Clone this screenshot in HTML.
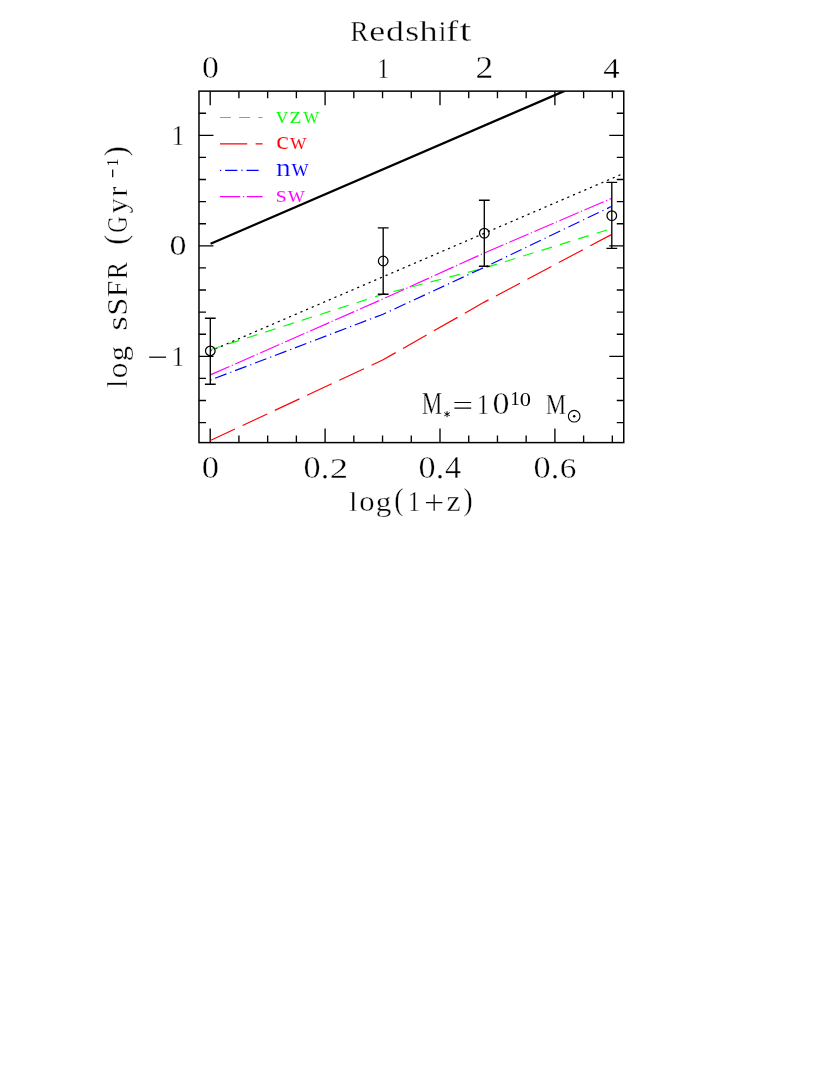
<!DOCTYPE html>
<html><head><meta charset="utf-8"><title>sSFR vs redshift</title>
<style>html,body{margin:0;padding:0;background:#fff}svg{display:block}text{font-family:"Liberation Serif",serif}</style></head>
<body><svg width="817" height="1089" viewBox="0 0 817 1089">
<defs><clipPath id="cp"><rect x="198.98" y="91.13" width="424.78" height="351.47"/></clipPath></defs>
<rect width="817" height="1089" fill="#fff"/>
<g opacity="0.999">
<rect x="198.98" y="91.13" width="424.78" height="351.47" fill="none" stroke="#000" stroke-width="1.5"/>
<path d="M210.20 91.13v14.0M210.20 442.6v-14.0M238.92 91.13v7.2M238.92 442.6v-7.2M267.65 91.13v7.2M267.65 442.6v-7.2M296.38 91.13v7.2M296.38 442.6v-7.2M325.10 91.13v14.0M325.10 442.6v-14.0M353.82 91.13v7.2M353.82 442.6v-7.2M382.55 91.13v7.2M382.55 442.6v-7.2M411.27 91.13v7.2M411.27 442.6v-7.2M440.00 91.13v14.0M440.00 442.6v-14.0M468.73 91.13v7.2M468.73 442.6v-7.2M497.45 91.13v7.2M497.45 442.6v-7.2M526.17 91.13v7.2M526.17 442.6v-7.2M554.90 91.13v14.0M554.90 442.6v-14.0M583.62 91.13v7.2M583.62 442.6v-7.2M612.35 91.13v7.2M612.35 442.6v-7.2M198.98 422.63h7.0M623.76 422.63h-7.0M198.98 400.53h7.0M623.76 400.53h-7.0M198.98 378.43h7.0M623.76 378.43h-7.0M198.98 356.33h14.5M623.76 356.33h-14.5M198.98 334.23h7.0M623.76 334.23h-7.0M198.98 312.13h7.0M623.76 312.13h-7.0M198.98 290.03h7.0M623.76 290.03h-7.0M198.98 267.93h7.0M623.76 267.93h-7.0M198.98 245.83h14.5M623.76 245.83h-14.5M198.98 223.73h7.0M623.76 223.73h-7.0M198.98 201.63h7.0M623.76 201.63h-7.0M198.98 179.53h7.0M623.76 179.53h-7.0M198.98 157.43h7.0M623.76 157.43h-7.0M198.98 135.33h14.5M623.76 135.33h-14.5M198.98 113.23h7.0M623.76 113.23h-7.0" stroke="#000" stroke-width="1.35" fill="none"/>
<g clip-path="url(#cp)">
<path d="M210.6 243.7L564.6 90.9" stroke="#000" stroke-width="2.3" fill="none"/>
<path d="M210.3 351.0L621.1 174.5" stroke="#000" stroke-width="1.25" fill="none" stroke-dasharray="2.2 3.98" stroke-dashoffset="0.8"/>
<path d="M210.3 349.8 L383.1 294.2 L484.3 268.1 L611.8 228.5" stroke="#00ff00" stroke-width="1.2" fill="none" stroke-dasharray="10.9 8.32"/>
<path d="M210.3 440.5 L383.1 359.8 L484.3 302.1 L611.8 234.4" stroke="#ff0000" stroke-width="1.2" fill="none" stroke-dasharray="27.2 8.4"/>
<path d="M210.3 380.1 L383.1 314.2 L484.3 267.3 L611.8 206.3" stroke="#0000ff" stroke-width="1.2" fill="none" stroke-dasharray="1.2 3.9 12.2 4.07"/>
<path d="M210.3 374.9 L383.1 298.9 L484.3 253.0 L611.8 198.2" stroke="#ff00ff" stroke-width="1.2" fill="none" stroke-dasharray="20.9 2.55 1.2 2.61"/>
</g>
<path d="M210.3 318.2V384.2M204.9 318.2h10.8M204.9 384.2h10.8" stroke="#000" stroke-width="1.35" fill="none"/>
<circle cx="210.3" cy="350.9" r="4.8" stroke="#000" stroke-width="1.25" fill="none"/>
<path d="M383.2 227.9V294.2M377.8 227.9h10.8M377.8 294.2h10.8" stroke="#000" stroke-width="1.35" fill="none"/>
<circle cx="383.2" cy="261.0" r="4.8" stroke="#000" stroke-width="1.25" fill="none"/>
<path d="M484.3 200.2V266.2M478.90000000000003 200.2h10.8M478.90000000000003 266.2h10.8" stroke="#000" stroke-width="1.35" fill="none"/>
<circle cx="484.3" cy="233.2" r="4.8" stroke="#000" stroke-width="1.25" fill="none"/>
<path d="M611.8 182.4V248.4M606.4 182.4h10.8M606.4 248.4h10.8" stroke="#000" stroke-width="1.35" fill="none"/>
<circle cx="611.8" cy="215.7" r="4.8" stroke="#000" stroke-width="1.25" fill="none"/>
<path d="M220 117.5H262.6" stroke="#00ff00" stroke-width="1.2" fill="none" stroke-dasharray="10.9 8.2"/>
<path d="M220 143.9H262.6" stroke="#ff0000" stroke-width="1.2" fill="none" stroke-dasharray="27.2 8.4"/>
<path d="M220 170.3H262.6" stroke="#0000ff" stroke-width="1.2" fill="none" stroke-dasharray="1.2 3.9 12.2 4.07"/>
<path d="M220 196.7H262.6" stroke="#ff00ff" stroke-width="1.2" fill="none" stroke-dasharray="20.3 2.6 1.2 2.6"/>
<text transform="translate(276.00,122.90) scale(1.000,0.999)" font-size="24" fill="#00ff00" stroke="#fff" stroke-width="0.2">v</text>
<text transform="translate(289.49,122.90) scale(1.103,0.999)" font-size="24" fill="#00ff00" stroke="#fff" stroke-width="0.2">z</text>
<text transform="translate(302.98,122.90) scale(0.942,0.999)" font-size="24" fill="#00ff00" stroke="#fff" stroke-width="0.2">w</text>
<text transform="translate(275.88,149.30) scale(1.222,1.017)" font-size="24" fill="#ff0000" stroke="#fff" stroke-width="0.2">c</text>
<text transform="translate(289.78,149.30) scale(0.982,0.999)" font-size="24" fill="#ff0000" stroke="#fff" stroke-width="0.2">w</text>
<text transform="translate(276.12,175.80) scale(1.227,1.017)" font-size="24" fill="#0000ff" stroke="#fff" stroke-width="0.2">n</text>
<text transform="translate(291.28,175.80) scale(1.023,1.017)" font-size="24" fill="#0000ff" stroke="#fff" stroke-width="0.2">w</text>
<text transform="translate(275.84,202.10) scale(1.175,0.999)" font-size="24" fill="#ff00ff" stroke="#fff" stroke-width="0.2">s</text>
<text transform="translate(287.48,202.10) scale(1.011,0.999)" font-size="24" fill="#ff00ff" stroke="#fff" stroke-width="0.2">w</text>
<text transform="translate(350.21,41.00) scale(0.911,0.988)" font-size="30" fill="#000" stroke="#fff" stroke-width="0.35">R</text>
<text transform="translate(369.30,41.00) scale(1.198,0.990)" font-size="30" fill="#000" stroke="#fff" stroke-width="0.35">e</text>
<text transform="translate(386.10,41.00) scale(1.196,0.961)" font-size="30" fill="#000" stroke="#fff" stroke-width="0.35">d</text>
<text transform="translate(405.33,41.00) scale(1.197,0.990)" font-size="30" fill="#000" stroke="#fff" stroke-width="0.35">s</text>
<text transform="translate(419.34,41.00) scale(1.230,0.961)" font-size="30" fill="#000" stroke="#fff" stroke-width="0.35">h</text>
<text transform="translate(438.39,41.00) scale(0.967,1.007)" font-size="30" fill="#000" stroke="#fff" stroke-width="0.35">i</text>
<text transform="translate(445.97,41.00) scale(1.224,0.947)" font-size="30" fill="#000" stroke="#fff" stroke-width="0.35">f</text>
<text transform="translate(459.48,41.00) scale(1.424,1.036)" font-size="30" fill="#000" stroke="#fff" stroke-width="0.35">t</text>
<text transform="translate(201.91,78.05) scale(1.125,1.020)" font-size="30" fill="#000" stroke="#fff" stroke-width="0.35">0</text>
<text transform="translate(377.00,78.05) scale(0.833,1.017)" font-size="30" fill="#000" stroke="#fff" stroke-width="0.35">1</text>
<text transform="translate(475.54,78.05) scale(1.181,1.025)" font-size="30" fill="#000" stroke="#fff" stroke-width="0.35">2</text>
<text transform="translate(603.26,78.05) scale(1.090,1.005)" font-size="30" fill="#000" stroke="#fff" stroke-width="0.35">4</text>
<text transform="translate(201.68,478.30) scale(1.156,1.017)" font-size="30" fill="#000" stroke="#fff" stroke-width="0.35">0</text>
<text transform="translate(303.50,478.30) scale(1.140,1.017)" font-size="30" fill="#000" stroke="#fff" stroke-width="0.35">0</text>
<circle cx="325.0" cy="476.7" r="1.7" fill="#000"/>
<text transform="translate(329.79,478.30) scale(1.222,1.017)" font-size="30" fill="#000" stroke="#fff" stroke-width="0.35">2</text>
<text transform="translate(418.50,478.30) scale(1.140,1.017)" font-size="30" fill="#000" stroke="#fff" stroke-width="0.35">0</text>
<circle cx="440.0" cy="476.7" r="1.7" fill="#000"/>
<text transform="translate(445.07,478.30) scale(1.076,1.023)" font-size="30" fill="#000" stroke="#fff" stroke-width="0.35">4</text>
<text transform="translate(533.50,478.30) scale(1.140,1.017)" font-size="30" fill="#000" stroke="#fff" stroke-width="0.35">0</text>
<circle cx="555.0" cy="476.7" r="1.7" fill="#000"/>
<text transform="translate(559.77,478.30) scale(1.108,1.017)" font-size="30" fill="#000" stroke="#fff" stroke-width="0.35">6</text>
<text transform="translate(349.09,511.00) scale(1.023,0.946)" font-size="30" fill="#000" stroke="#fff" stroke-width="0.35">l</text>
<text transform="translate(359.13,511.00) scale(1.022,0.976)" font-size="30" fill="#000" stroke="#fff" stroke-width="0.35">o</text>
<text transform="translate(375.76,511.00) scale(1.043,0.896)" font-size="30" fill="#000" stroke="#fff" stroke-width="0.35">g</text>
<text transform="translate(407.83,511.00) scale(0.824,0.995)" font-size="30" fill="#000" stroke="#fff" stroke-width="0.35">1</text>
<text transform="translate(446.54,511.00) scale(1.062,0.966)" font-size="30" fill="#000" stroke="#fff" stroke-width="0.35">z</text>
<text transform="translate(394.37,510.24) scale(0.934,1.059)" font-size="30" fill="#000" stroke="#fff" stroke-width="0.35">(</text>
<text transform="translate(463.18,510.24) scale(0.947,1.059)" font-size="30" fill="#000" stroke="#fff" stroke-width="0.35">)</text>
<path d="M426 502.7H442.3M434.15 494.6V510.8" stroke="#000" stroke-width="1.2" fill="none"/>
<text transform="translate(171.50,145.30) scale(0.871,1.010)" font-size="30" fill="#000" stroke="#fff" stroke-width="0.35">1</text>
<text transform="translate(169.51,255.40) scale(1.133,1.017)" font-size="30" fill="#000" stroke="#fff" stroke-width="0.35">0</text>
<path d="M149.2 357.2H166.1" stroke="#000" stroke-width="1.25"/>
<text transform="translate(171.50,365.80) scale(0.871,1.000)" font-size="30" fill="#000" stroke="#fff" stroke-width="0.35">1</text>
<text transform="translate(421.83,414.00) scale(0.770,1.018)" font-size="30" fill="#000" stroke="#fff" stroke-width="0.35">M</text>
<path d="M454.4 402.5H471.2M454.4 408.2H471.2" stroke="#000" stroke-width="1.2" fill="none"/>
<path d="M447.05 411.2V417.2M444.3 412.6L449.8 415.8M449.8 412.6L444.3 415.8" stroke="#000" stroke-width="1.0" fill="none"/>
<text transform="translate(476.70,414.00) scale(0.833,1.010)" font-size="30" fill="#000" stroke="#fff" stroke-width="0.35">1</text>
<text transform="translate(492.41,414.00) scale(1.133,1.022)" font-size="30" fill="#000" stroke="#fff" stroke-width="0.35">0</text>
<text transform="translate(510.30,405.30) scale(1.073,1.010)" font-size="18" fill="#000" stroke="#fff" stroke-width="0">1</text>
<text transform="translate(519.75,405.50) scale(1.245,1.019)" font-size="18" fill="#000" stroke="#fff" stroke-width="0">0</text>
<text transform="translate(545.64,414.00) scale(0.762,1.008)" font-size="30" fill="#000" stroke="#fff" stroke-width="0.35">M</text>
<circle cx="574.2" cy="416.2" r="5.8" stroke="#000" stroke-width="1.1" fill="none"/><circle cx="574.2" cy="416.2" r="1.25" fill="#000"/>
<text transform="translate(126.9,387.2) rotate(-90) translate(-0.56,0.00) scale(0.925,0.961)" font-size="30" fill="#000" stroke="#fff" stroke-width="0.35">l</text>
<text transform="translate(126.9,387.2) rotate(-90) translate(8.90,0.00) scale(1.046,1.005)" font-size="30" fill="#000" stroke="#fff" stroke-width="0.35">o</text>
<text transform="translate(126.9,387.2) rotate(-90) translate(25.99,0.00) scale(1.020,0.922)" font-size="30" fill="#000" stroke="#fff" stroke-width="0.35">g</text>
<text transform="translate(126.9,387.2) rotate(-90) translate(56.56,0.00) scale(1.250,1.005)" font-size="30" fill="#000" stroke="#fff" stroke-width="0.35">s</text>
<text transform="translate(126.9,387.2) rotate(-90) translate(71.42,0.00) scale(1.084,1.012)" font-size="30" fill="#000" stroke="#fff" stroke-width="0.35">S</text>
<text transform="translate(126.9,387.2) rotate(-90) translate(90.16,0.00) scale(0.977,1.008)" font-size="30" fill="#000" stroke="#fff" stroke-width="0.35">F</text>
<text transform="translate(126.9,387.2) rotate(-90) translate(108.17,0.00) scale(0.848,1.008)" font-size="30" fill="#000" stroke="#fff" stroke-width="0.35">R</text>
<text transform="translate(126.9,387.2) rotate(-90) translate(154.47,0.00) scale(0.759,1.012)" font-size="30" fill="#000" stroke="#fff" stroke-width="0.35">G</text>
<text transform="translate(126.9,387.2) rotate(-90) translate(173.63,0.00) scale(1.020,1.017)" font-size="30" fill="#000" stroke="#fff" stroke-width="0.35">y</text>
<text transform="translate(126.9,387.2) rotate(-90) translate(190.81,0.00) scale(0.986,1.005)" font-size="30" fill="#000" stroke="#fff" stroke-width="0.35">r</text>
<text transform="translate(126.9,387.2) rotate(-90) translate(142.48,-1.26) scale(0.999,1.059)" font-size="30" fill="#000" stroke="#fff" stroke-width="0.35">(</text>
<text transform="translate(126.9,387.2) rotate(-90) translate(230.93,-1.26) scale(0.999,1.059)" font-size="30" fill="#000" stroke="#fff" stroke-width="0.35">)</text>
<text transform="translate(126.9,387.2) rotate(-90) translate(220.60,-8.80) scale(0.884,0.968)" font-size="18" fill="#000" stroke="#fff" stroke-width="0">1</text>
<path transform="translate(126.9,387.2) rotate(-90)" d="M210 -14.2H217.7" stroke="#000" stroke-width="1.25"/>
</g>
</svg></body></html>
